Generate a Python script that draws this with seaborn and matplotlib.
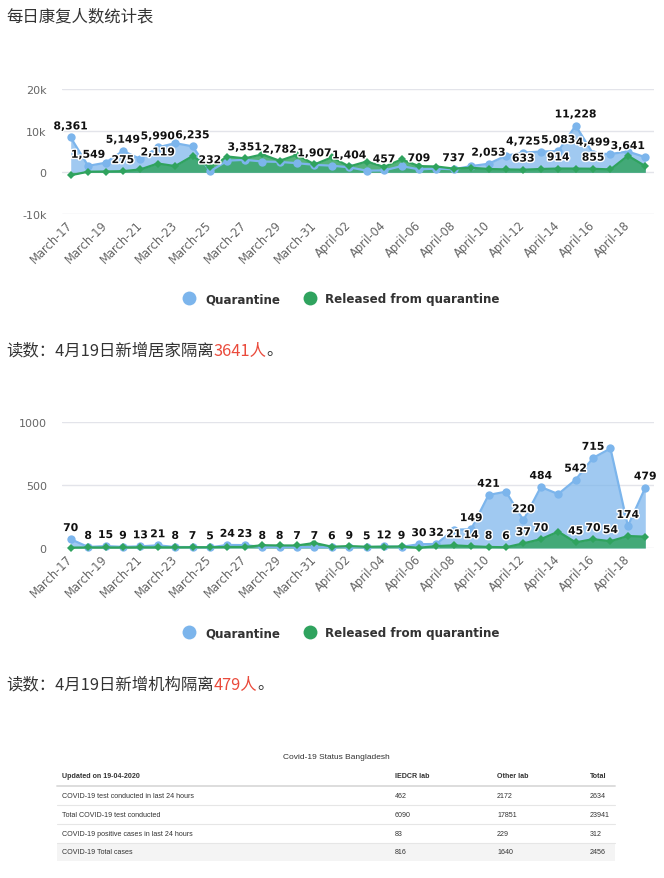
import numpy as np
import pandas as pd
import matplotlib
matplotlib.use("Agg")
import matplotlib.pyplot as plt
import matplotlib.patheffects as pe
from matplotlib.lines import Line2D
from matplotlib.patches import Rectangle
import seaborn as sns

# --- Datos ---
fechas = [f"March-{d}" for d in range(17, 32)] + [f"April-{d:02d}" for d in range(1, 20)]

# Grafica 1: 居家隔离
cuarentena_1 = [8361, 1549, 2300, 5149, 3200, 5990, 7000, 6235, 232, 2800, 3000, 2600,
                2500, 2200, 1800, 1600, 1200, 400, 457, 1500, 709, 900, 737, 1500,
                2053, 4000, 4725, 5000, 5083, 11228, 4499, 4400, 5000, 3641]
liberados_1 = [-700, 150, 200, 275, 700, 2119, 1500, 3900, 1200, 3800, 3351, 4300,
               2782, 4200, 1907, 3600, 1404, 2600, 1300, 3100, 1500, 1400, 900, 1100,
               800, 700, 633, 800, 914, 900, 855, 700, 4000, 1500]
etiq_cuar_1 = [0, 1, 3, 5, 7, 8, 18, 20, 22, 24, 26, 28, 29, 30, 33]
etiq_lib_1 = [3, 5, 10, 12, 14, 16, 26, 28, 30]

# Grafica 2: 机构隔离
cuarentena_2 = [70, 8, 15, 9, 13, 21, 8, 7, 5, 24, 23, 8, 8, 7, 7, 6, 9, 5, 12, 9,
                30, 32, 145, 149, 421, 447, 220, 484, 428, 542, 715, 790, 174, 479]
liberados_2 = [3, 4, 4, 4, 5, 5, 5, 6, 6, 8, 8, 22, 20, 20, 40, 10, 15, 10, 10, 12,
               2, 15, 21, 14, 8, 6, 37, 70, 130, 45, 70, 54, 95, 90]
etiq_cuar_2 = list(range(0, 22)) + [23, 24, 26, 27, 29, 30, 32, 33]
etiq_lib_2 = [22, 23, 24, 25, 26, 27, 29, 30, 31]

# Tabla Bangladesh
tabla_columnas = ["Updated on 19-04-2020", "IEDCR lab", "Other lab", "Total"]
tabla_filas = ["COVID-19 test conducted in last 24 hours", "Total COVID-19 test conducted",
               "COVID-19 positive cases in last 24 hours", "COVID-19 Total cases"]
tabla_iedcr = [462, 6090, 83, 816]
tabla_otros = [2172, 17851, 229, 1640]
tabla_total = [2634, 23941, 312, 2456]

AZUL = "#7cb5ec"
VERDE = "#2fa35e"
ROJO = "#ea4b3c"
CJK = ["Noto Sans CJK SC", "DejaVu Sans"]

sns.set_theme(style="white")
plt.rcParams["font.family"] = ["DejaVu Sans"]

W, H = 664, 879
fig = plt.figure(figsize=(W / 100, H / 100), dpi=100)

# fondo y textos en coordenadas de pixel
bg = fig.add_axes([0, 0, 1, 1], zorder=-1)
bg.set_xlim(0, W)
bg.set_ylim(H, 0)
bg.axis("off")


def ejes(top, bottom):
    return fig.add_axes([62 / W, 1 - bottom / H, 592 / W, (bottom - top) / H])


def dibujar(ax, cuar, lib, et_c, et_l, ylim, yticks, ylabels):
    x = np.arange(len(fechas))
    df = pd.DataFrame({"x": x, "Quarantine": cuar, "Released": lib})
    ax.fill_between(x, cuar, color=AZUL, alpha=0.72, lw=0, clip_on=False)
    sns.lineplot(data=df, x="x", y="Quarantine", ax=ax, color=AZUL, lw=1.6,
                 marker="o", markersize=6, markeredgewidth=0)
    ax.fill_between(x, lib, color=VERDE, alpha=0.82, lw=0, clip_on=False)
    sns.lineplot(data=df, x="x", y="Released", ax=ax, color=VERDE, lw=1.6,
                 marker="D", markersize=4.5, markeredgewidth=0)
    for ln in ax.lines:
        ln.set_clip_on(False)

    contorno = [pe.withStroke(linewidth=2, foreground="white")]
    for serie, idx in ((cuar, et_c), (lib, et_l)):
        for i in idx:
            v = serie[i]
            ha = "right" if (i == len(fechas) - 1 and v >= 1000) else "center"
            ax.annotate(f"{v:,}", (i, v), xytext=(0, 8), textcoords="offset points",
                        ha=ha, va="center", fontsize=7.8, fontweight="bold",
                        color="#111111", path_effects=contorno, zorder=10)

    ax.set_xlim(-0.5, len(fechas) - 0.5)
    ax.set_ylim(*ylim)
    ax.set_yticks(yticks)
    ax.set_yticklabels(ylabels)
    ax.set_xticks(range(0, len(fechas), 2))
    ax.set_xticklabels(fechas[::2], rotation=45, ha="right", va="center",
                       rotation_mode="anchor")
    ax.tick_params(axis="y", length=0, pad=11, labelsize=8, labelcolor="#666666")
    ax.tick_params(axis="x", length=0, pad=6, labelsize=8.3, labelcolor="#666666")
    ax.set_xlabel("")
    ax.set_ylabel("")
    ax.set_facecolor("none")
    ax.grid(axis="y", color="#e3e4ea", lw=1)
    ax.grid(axis="x", visible=False)
    for s in ax.spines.values():
        s.set_visible(False)


def leyenda(y):
    handles = [Line2D([], [], marker="o", ls="None", markersize=10, markeredgewidth=0,
                      markerfacecolor=c) for c in (AZUL, VERDE)]
    fig.legend(handles, ["Quarantine", "Released from quarantine"], loc="center",
               bbox_to_anchor=(0.51, 1 - y / H), ncol=2, frameon=False,
               handletextpad=0.3, columnspacing=1.5,
               prop={"size": 8.6, "weight": "bold"}, labelcolor="#333333")


ax1 = ejes(90, 215)
dibujar(ax1, cuarentena_1, liberados_1, etiq_cuar_1, etiq_lib_1,
        (-10000, 20000), [-10000, 0, 10000, 20000], ["-10k", "0", "10k", "20k"])
leyenda(300)

ax2 = ejes(423, 549)
dibujar(ax2, cuarentena_2, liberados_2, etiq_cuar_2, etiq_lib_2,
        (0, 1000), [0, 500, 1000], ["0", "500", "1000"])
leyenda(634)

# --- Textos en chino ---
txt = dict(fontsize=11.8, family=CJK, color="#333333", va="center")
bg.text(6, 17, "每日康复人数统计表", **txt)


def lectura(y, inicio, numero):
    t1 = bg.text(6, y, inicio, **txt)
    t2 = bg.annotate(numero, xy=(1, 0.5), xycoords=t1, ha="left", va="center",
                     fontsize=11.8, family=CJK, color=ROJO)
    bg.annotate("。", xy=(1, 0.5), xycoords=t2, ha="left", va="center",
                fontsize=11.8, family=CJK, color="#333333")


lectura(351, "读数：4月19日新增居家隔离", "3641人")
lectura(685, "读数：4月19日新增机构隔离", "479人")

# --- Tabla ---
tf = dict(family=["Liberation Sans", "DejaVu Sans"], color="#333333", va="center")
bg.text(336, 758, "Covid-19 Status Bangladesh", ha="center", fontsize=6.0, **tf)
col_x = [62, 395, 497, 590]
for cx, nombre in zip(col_x, tabla_columnas):
    bg.text(cx, 777, nombre, fontsize=5.1, fontweight="bold", **tf)
bg.plot([57, 615], [787, 787], color="#dddddd", lw=1.4)
fila_y = [797, 815.5, 834.5, 853]
bg.add_patch(Rectangle((57, 844), 558, 18, color="#f4f4f4", lw=0))
for k, yy in enumerate(fila_y):
    valores = [tabla_filas[k], tabla_iedcr[k], tabla_otros[k], tabla_total[k]]
    for cx, v in zip(col_x, valores):
        bg.text(cx, yy, str(v), fontsize=5.1, **tf)
    if k < len(fila_y) - 1:
        bg.plot([57, 615], [yy + 9.3, yy + 9.3], color="#e6e6e6", lw=0.8)

fig.savefig("out.png", dpi=100)
